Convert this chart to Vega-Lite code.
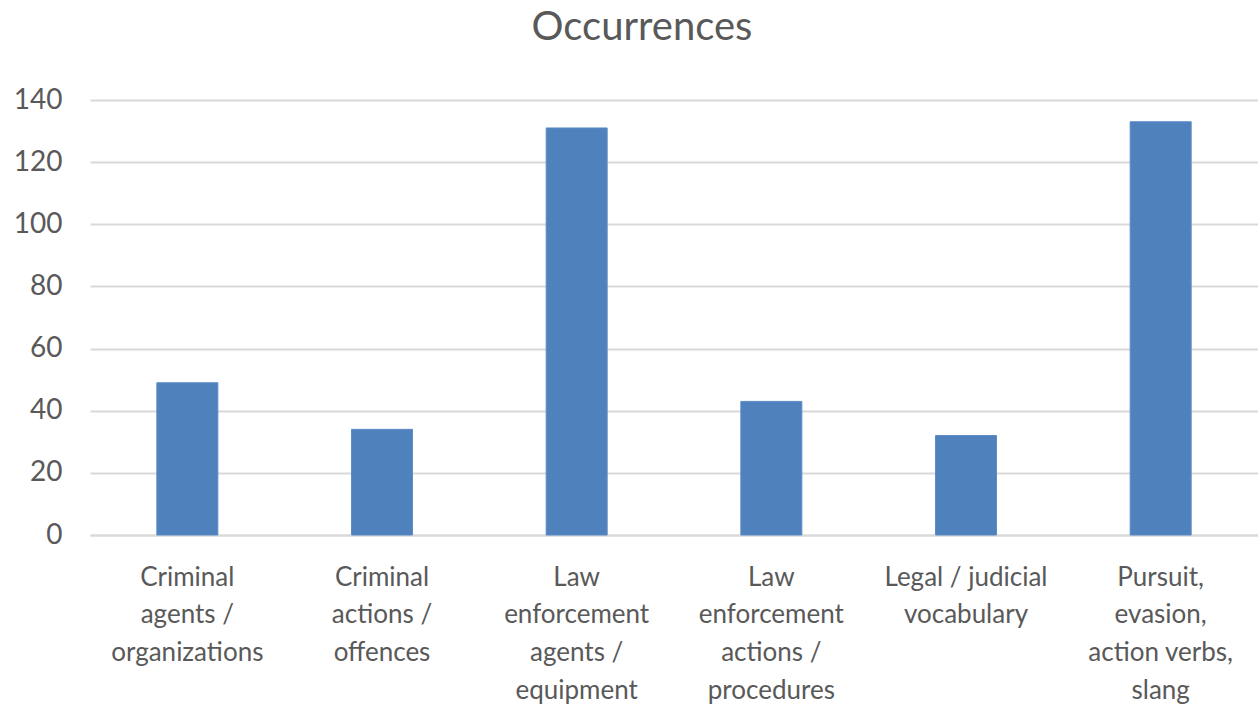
{
  "$schema": "https://vega.github.io/schema/vega-lite/v6.json",
  "autosize": "none",
  "width": 1168,
  "height": 435,
  "padding": {"left": 90, "top": 100, "right": 0, "bottom": 178},
  "background": "white",
  "title": {"text": "Occurrences", "fontSize": 40, "font": "Lato", "fontWeight": "normal", "color": "#595959", "offset": 6, "dx": -32, "baseline": "alphabetic"},
  "data": {"values": [
    {"category": "Criminal agents / organizations", "occurrences": 49},
    {"category": "Criminal actions / offences", "occurrences": 34},
    {"category": "Law enforcement agents / equipment", "occurrences": 131},
    {"category": "Law enforcement actions / procedures", "occurrences": 43},
    {"category": "Legal / judicial vocabulary", "occurrences": 32},
    {"category": "Pursuit, evasion, action verbs, slang", "occurrences": 133}
  ]},
  "mark": {"type": "bar", "size": 61, "color": "#4f81bd", "stroke": "#5b8cc6", "strokeWidth": 1},
  "encoding": {
    "x": {"field": "category", "type": "nominal", "sort": null, "title": null,
      "scale": {"paddingInner": 0, "paddingOuter": 0},
      "axis": {"labelAngle": 0, "domainColor": "#d9d9d9", "domainWidth": 2, "ticks": false,
        "labelFont": "Lato", "labelFontSize": 26, "labelColor": "#595959", "labelPadding": 29,
        "labelLineHeight": 37.7, "labelBaseline": "top", "labelLimit": 0,
        "labelExpr": "{'Criminal agents / organizations': ['Criminal','agents /','organizations'], 'Criminal actions / offences': ['Criminal','actions /','offences'], 'Law enforcement agents / equipment': ['Law','enforcement','agents /','equipment'], 'Law enforcement actions / procedures': ['Law','enforcement','actions /','procedures'], 'Legal / judicial vocabulary': ['Legal / judicial','vocabulary'], 'Pursuit, evasion, action verbs, slang': ['Pursuit,','evasion,','action verbs,','slang']}[datum.value]"}},
    "y": {"field": "occurrences", "type": "quantitative", "title": null,
      "scale": {"domain": [0, 140]},
      "axis": {"values": [0, 20, 40, 60, 80, 100, 120, 140], "domain": false, "ticks": false,
        "gridColor": "#d9d9d9", "gridWidth": 2, "labelFont": "Lato", "labelFontSize": 28,
        "labelColor": "#595959", "labelPadding": 28}}
  },
  "config": {"view": {"stroke": null}}
}
